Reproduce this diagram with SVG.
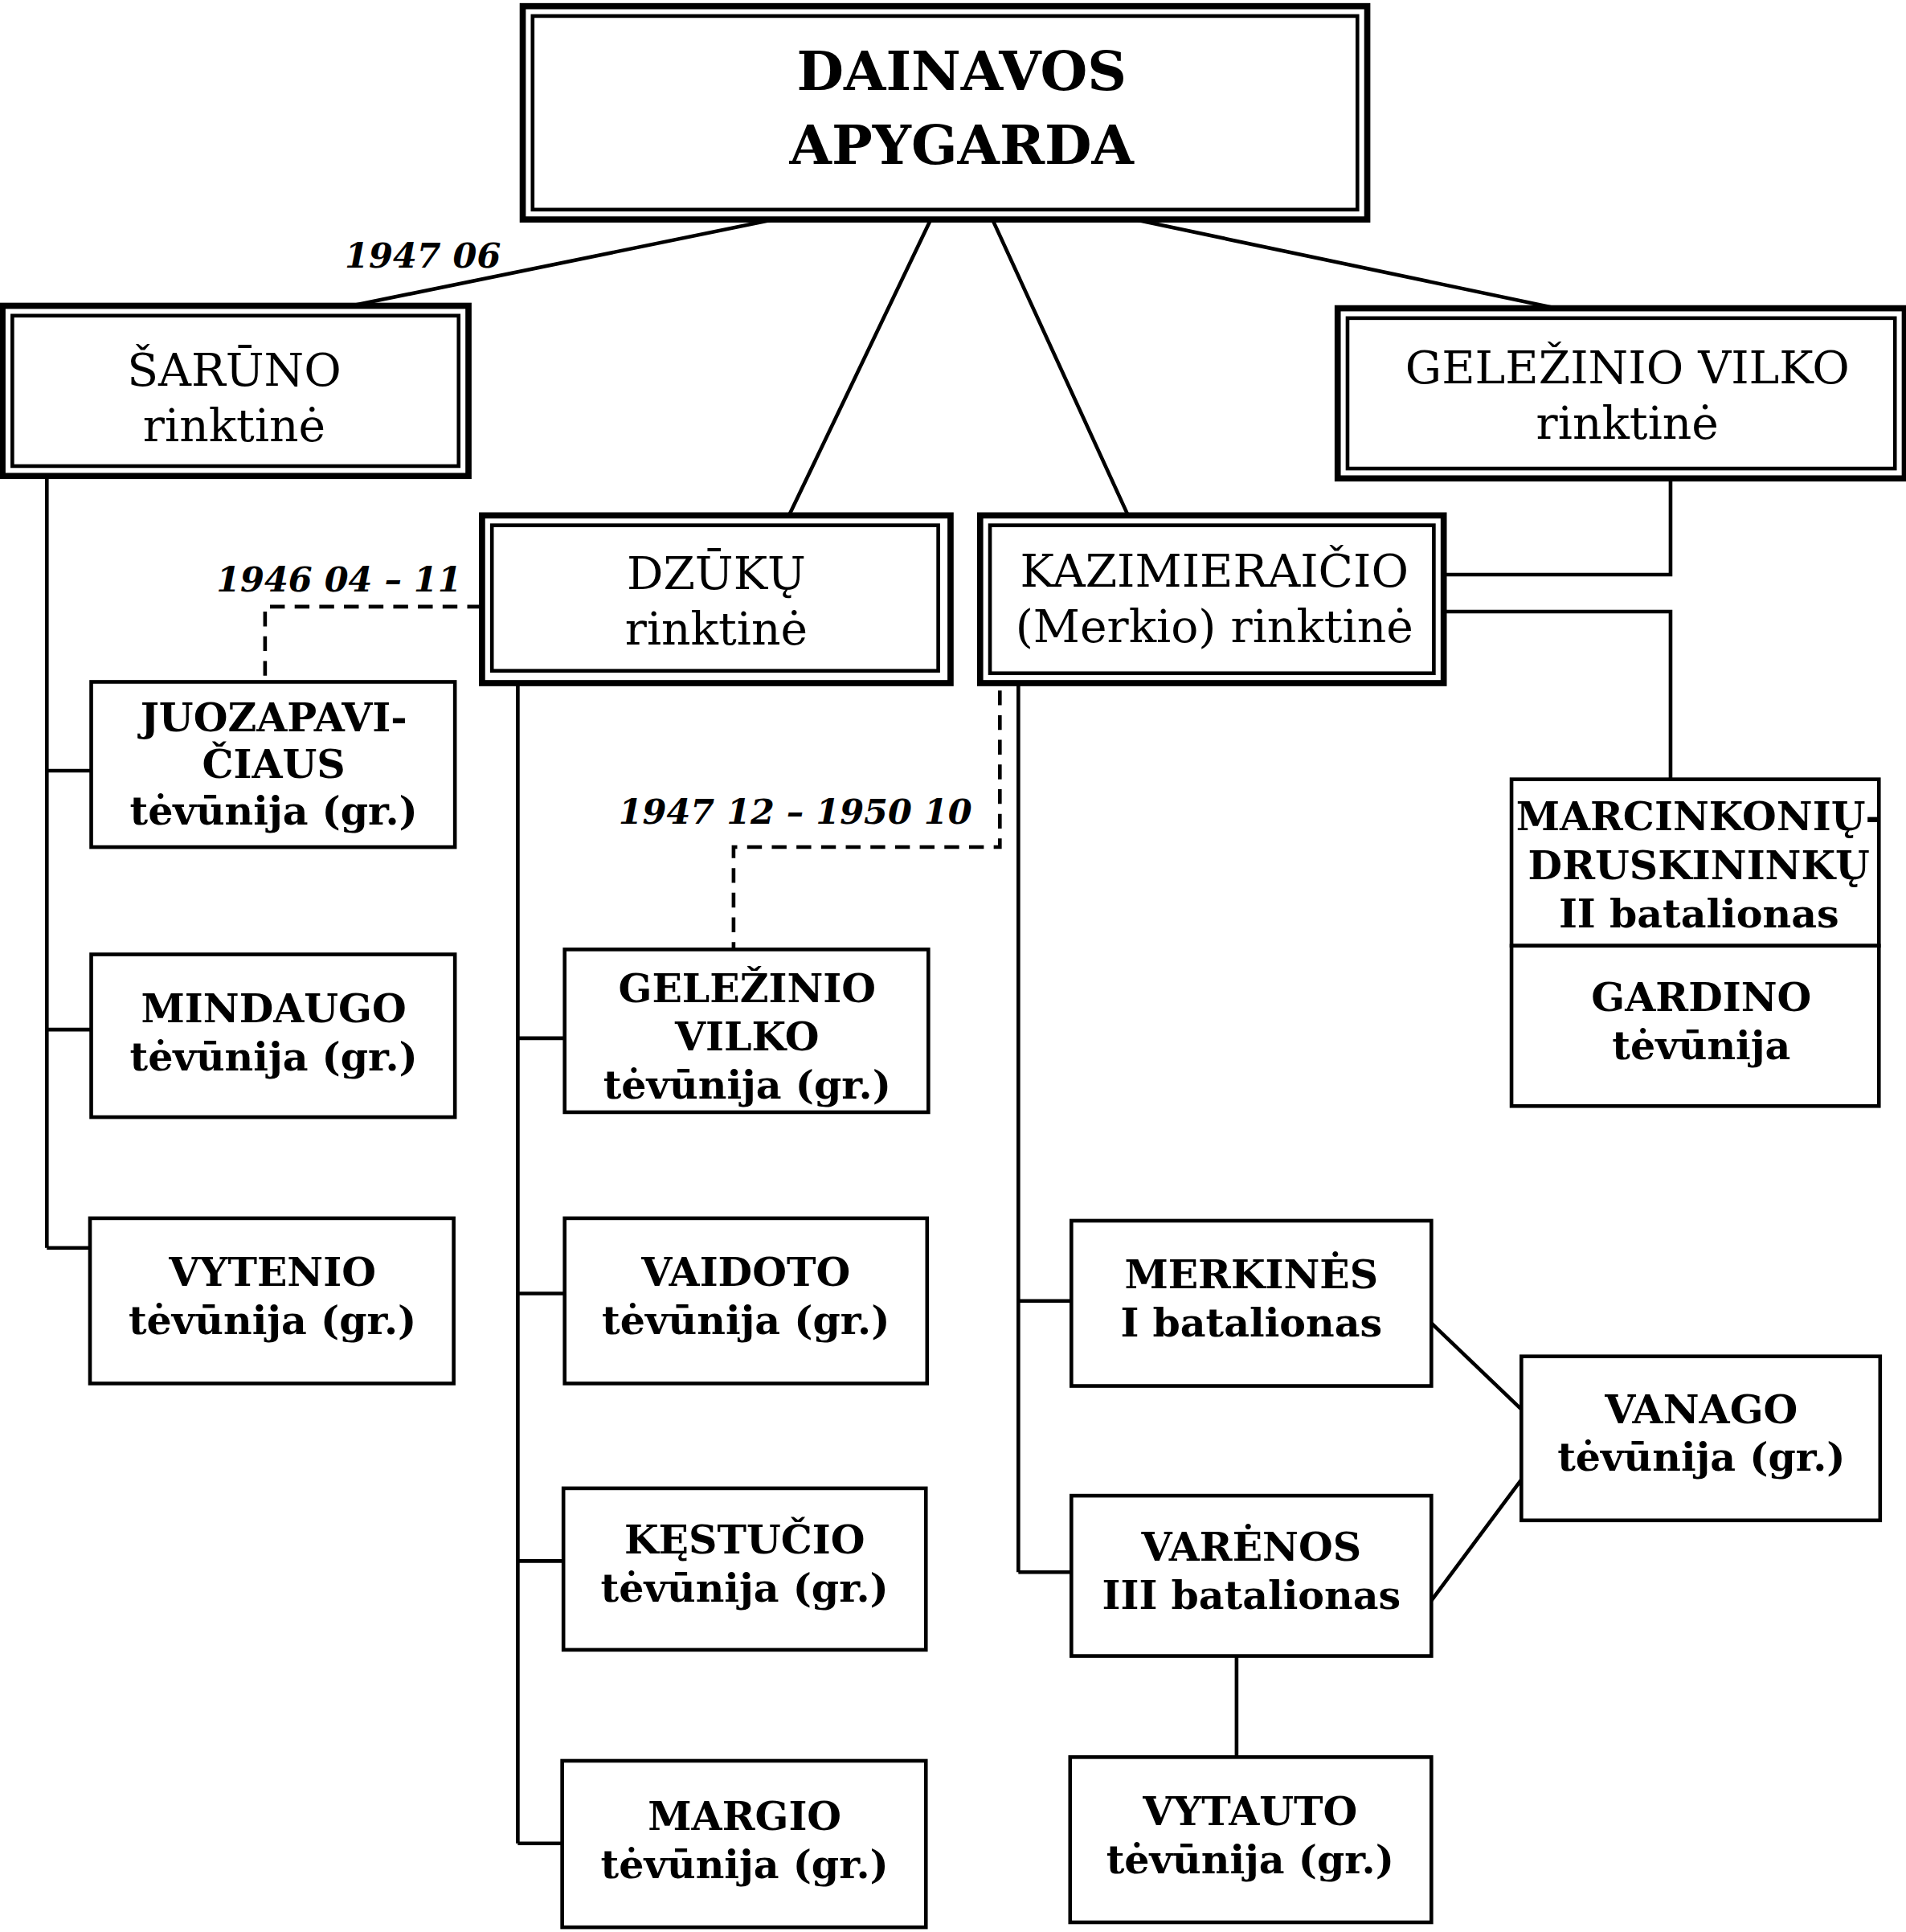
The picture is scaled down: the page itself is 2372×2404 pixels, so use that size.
<svg xmlns="http://www.w3.org/2000/svg" width="2372" height="2404" viewBox="0 0 2372 2404">
<style>
.b{fill:#fff;stroke:#000;stroke-width:3}
.o{fill:#fff;stroke:#000;stroke-width:5}
.i{fill:none;stroke:#000;stroke-width:3}
.l{fill:none;stroke:#000;stroke-width:3}
.d{fill:none;stroke:#000;stroke-width:3;stroke-dasharray:12 8}
text{font-family:"DejaVu Serif","Liberation Serif",serif;text-anchor:middle;fill:#000}
.t{font-size:44px;font-weight:bold}
.h{font-size:37px}
.n{font-size:32px;font-weight:bold}
.dt{font-size:28px;font-weight:bold;font-style:italic}
</style>
<rect width="2372" height="2404" fill="#fff"/>
<g transform="scale(1.5343)">
<g id="connectors">
<path class="l" d="M628,178L285,248M755,178L640,418M805,178L915,418M920,178L1262,250"/>
<path class="l" d="M38,386V1012M38,625H74M38,835H74M38,1012H73"/>
<path class="l" d="M420,554V1495M420,842H458M420,1049H458M420,1266H457M420,1495H456"/>
<path class="l" d="M826,554V1275M826,1055H869M826,1275H869"/>
<path class="l" d="M1161,1073L1234,1143M1161,1298L1234,1200M1003,1343V1425"/>
<path class="l" d="M1355,388V466H1171M1171,496H1355V632"/>
<path class="d" d="M391,492H215V553"/>
<path class="d" d="M811,560V687H595V770"/>
<text class="dt" x="343" y="217">1947 06</text>
<text class="dt" x="275" y="480">1946 04 – 11</text>
<text class="dt" x="645" y="668">1947 12 – 1950 10</text>
</g>
<g id="dainavos"><rect class="o" x="424" y="5" width="685" height="173"/><rect class="i" x="432" y="13" width="669" height="157"/>
<text class="t" x="780" y="73">DAINAVOS</text><text class="t" x="780" y="133">APYGARDA</text></g>
<g id="saruno"><rect class="o" x="2" y="248" width="378" height="138"/><rect class="i" x="10" y="256" width="362" height="122"/>
<text class="h" x="190" y="313">ŠARŪNO</text><text class="h" x="190" y="358">rinktinė</text></g>
<g id="gelezinio"><rect class="o" x="1085" y="250" width="460" height="138"/><rect class="i" x="1093" y="258" width="444" height="122"/>
<text class="h" x="1320" y="311">GELEŽINIO VILKO</text><text class="h" x="1320" y="356">rinktinė</text></g>
<g id="dzuku"><rect class="o" x="391" y="418" width="380" height="136"/><rect class="i" x="399" y="426" width="362" height="118"/>
<text class="h" x="581" y="478">DZŪKŲ</text><text class="h" x="581" y="523">rinktinė</text></g>
<g id="kazimieraicio"><rect class="o" x="795" y="418" width="376" height="136"/><rect class="i" x="803" y="426" width="360" height="120"/>
<text class="h" x="985" y="476">KAZIMIERAIČIO</text><text class="h" x="985" y="521">(Merkio) rinktinė</text></g>
<g id="juozapaviciaus"><rect class="b" x="74" y="553" width="295" height="134"/>
<text class="n" x="222" y="593">JUOZAPAVI-</text><text class="n" x="222" y="631">ČIAUS</text><text class="n" x="222" y="669">tėvūnija (gr.)</text></g>
<g id="mindaugo"><rect class="b" x="74" y="774" width="295" height="132"/>
<text class="n" x="222" y="829">MINDAUGO</text><text class="n" x="222" y="868">tėvūnija (gr.)</text></g>
<g id="vytenio"><rect class="b" x="73" y="988" width="295" height="134"/>
<text class="n" x="221" y="1043">VYTENIO</text><text class="n" x="221" y="1082">tėvūnija (gr.)</text></g>
<g id="gv-tevunija"><rect class="b" x="458" y="770" width="295" height="132"/>
<text class="n" x="606" y="813">GELEŽINIO</text><text class="n" x="606" y="852">VILKO</text><text class="n" x="606" y="891">tėvūnija (gr.)</text></g>
<g id="vaidoto"><rect class="b" x="458" y="988" width="294" height="134"/>
<text class="n" x="605" y="1043">VAIDOTO</text><text class="n" x="605" y="1082">tėvūnija (gr.)</text></g>
<g id="kestucio"><rect class="b" x="457" y="1207" width="294" height="131"/>
<text class="n" x="604" y="1260">KĘSTUČIO</text><text class="n" x="604" y="1299">tėvūnija (gr.)</text></g>
<g id="margio"><rect class="b" x="456" y="1428" width="295" height="135"/>
<text class="n" x="604" y="1484">MARGIO</text><text class="n" x="604" y="1523">tėvūnija (gr.)</text></g>
<g id="merkines"><rect class="b" x="869" y="990" width="292" height="134"/>
<text class="n" x="1015" y="1045">MERKINĖS</text><text class="n" x="1015" y="1084">I batalionas</text></g>
<g id="varenos"><rect class="b" x="869" y="1213" width="292" height="130"/>
<text class="n" x="1015" y="1266">VARĖNOS</text><text class="n" x="1015" y="1305">III batalionas</text></g>
<g id="vanago"><rect class="b" x="1234" y="1100" width="291" height="133"/>
<text class="n" x="1380" y="1154">VANAGO</text><text class="n" x="1380" y="1193">tėvūnija (gr.)</text></g>
<g id="vytauto"><rect class="b" x="868" y="1425" width="293" height="134"/>
<text class="n" x="1014" y="1480">VYTAUTO</text><text class="n" x="1014" y="1519">tėvūnija (gr.)</text></g>
<g id="marcinkoniu"><rect class="b" x="1226" y="632" width="298" height="135"/>
<text class="n" x="1378" y="673">MARCINKONIŲ-</text><text class="n" x="1378" y="713">DRUSKININKŲ</text><text class="n" x="1378" y="752">II batalionas</text></g>
<g id="gardino"><rect class="b" x="1226" y="767" width="298" height="130"/>
<text class="n" x="1380" y="820">GARDINO</text><text class="n" x="1380" y="859">tėvūnija</text></g>
</g>
</svg>
